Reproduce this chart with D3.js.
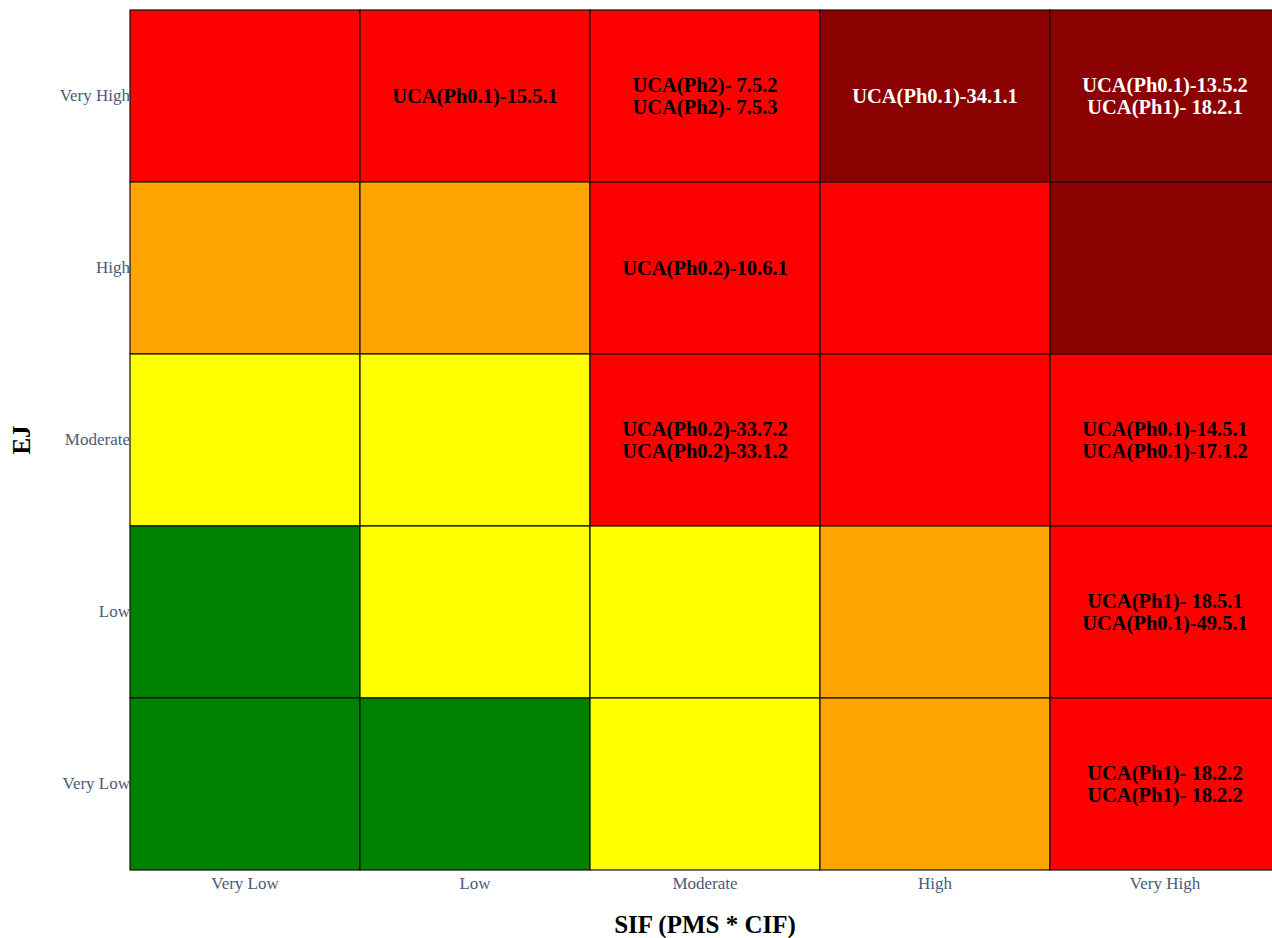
<!DOCTYPE html>
<html>
<head>
<meta charset="utf-8">
<script src="https://cdn.jsdelivr.net/npm/d3@7"></script>
<style>
  body { margin: 0; background: #fff; overflow: hidden; }
</style>
</head>
<body>
<script>
const levels = ["Very Low", "Low", "Moderate", "High", "Very High"];

// rows listed top to bottom (EJ Very High -> Very Low), columns SIF Very Low -> Very High
const rowLevels = ["Very High", "High", "Moderate", "Low", "Very Low"];
const cellColors = [
  ["#ff0000", "#ff0000", "#ff0000", "#8b0000", "#8b0000"],
  ["#ffa500", "#ffa500", "#ff0000", "#ff0000", "#8b0000"],
  ["#ffff00", "#ffff00", "#ff0000", "#ff0000", "#ff0000"],
  ["#008000", "#ffff00", "#ffff00", "#ffa500", "#ff0000"],
  ["#008000", "#008000", "#ffff00", "#ffa500", "#ff0000"]
];
const cellLabels = [
  [[], ["UCA(Ph0.1)-15.5.1"], ["UCA(Ph2)- 7.5.2", "UCA(Ph2)- 7.5.3"], ["UCA(Ph0.1)-34.1.1"], ["UCA(Ph0.1)-13.5.2", "UCA(Ph1)- 18.2.1"]],
  [[], [], ["UCA(Ph0.2)-10.6.1"], [], []],
  [[], [], ["UCA(Ph0.2)-33.7.2", "UCA(Ph0.2)-33.1.2"], [], ["UCA(Ph0.1)-14.5.1", "UCA(Ph0.1)-17.1.2"]],
  [[], [], [], [], ["UCA(Ph1)- 18.5.1", "UCA(Ph0.1)-49.5.1"]],
  [[], [], [], [], ["UCA(Ph1)- 18.2.2", "UCA(Ph1)- 18.2.2"]]
];

const width = 1272, height = 938;
const margin = {top: 10, left: 130, right: -8, bottom: 68};
const serif = "'Liberation Serif', 'Times New Roman', serif";

const svg = d3.select("body").append("svg")
    .attr("width", width)
    .attr("height", height)
    .style("font-family", serif);

const x = d3.scaleBand()
    .domain(levels)
    .range([margin.left, width - margin.right]);

const y = d3.scaleBand()
    .domain(rowLevels)
    .range([margin.top, height - margin.bottom]);

const cells = [];
rowLevels.forEach((r, i) => levels.forEach((c, j) => {
  cells.push({row: r, col: c, color: cellColors[i][j], labels: cellLabels[i][j]});
}));

svg.append("g")
  .selectAll("rect")
  .data(cells)
  .join("rect")
    .attr("x", d => x(d.col))
    .attr("y", d => y(d.row))
    .attr("width", x.bandwidth())
    .attr("height", y.bandwidth())
    .attr("fill", d => d.color)
    .attr("stroke", "#111")
    .attr("stroke-width", 1.2);

const lineH = 22;
const labels = svg.append("g")
    .attr("text-anchor", "middle")
    .style("font-size", "20.5px")
    .style("font-weight", "bold")
  .selectAll("text")
  .data(cells.filter(d => d.labels.length))
  .join("text")
    .attr("fill", d => d.color === "#8b0000" ? "#fff" : "#000");

labels.selectAll("tspan")
  .data(d => d.labels.map((t, k) => ({t, k, n: d.labels.length, d})))
  .join("tspan")
    .attr("x", e => x(e.d.col) + x.bandwidth() / 2)
    .attr("y", e => y(e.d.row) + y.bandwidth() / 2 + (e.k - (e.n - 1) / 2) * lineH)
    .attr("dy", "0.35em")
    .text(e => e.t);

// axes
const xAxis = svg.append("g")
    .attr("transform", `translate(0,${height - margin.bottom})`)
    .call(d3.axisBottom(x).tickSize(0).tickPadding(7));
const yAxis = svg.append("g")
    .attr("transform", `translate(${margin.left},0)`)
    .call(d3.axisLeft(y).tickSize(0).tickPadding(0));
[xAxis, yAxis].forEach(a => {
  a.select(".domain").remove();
  a.selectAll("text")
      .attr("fill", "#4b5b7a")
      .style("font-size", "17px")
      .style("font-family", serif);
});

svg.append("text")
    .attr("x", (margin.left + width - margin.right) / 2)
    .attr("y", 933)
    .attr("text-anchor", "middle")
    .style("font-size", "25px")
    .style("font-weight", "bold")
    .text("SIF (PMS * CIF)");

svg.append("text")
    .attr("transform", `translate(30,${(margin.top + height - margin.bottom) / 2}) rotate(-90)`)
    .attr("text-anchor", "middle")
    .style("font-size", "25px")
    .style("font-weight", "bold")
    .text("EJ");
</script>
</body>
</html>
